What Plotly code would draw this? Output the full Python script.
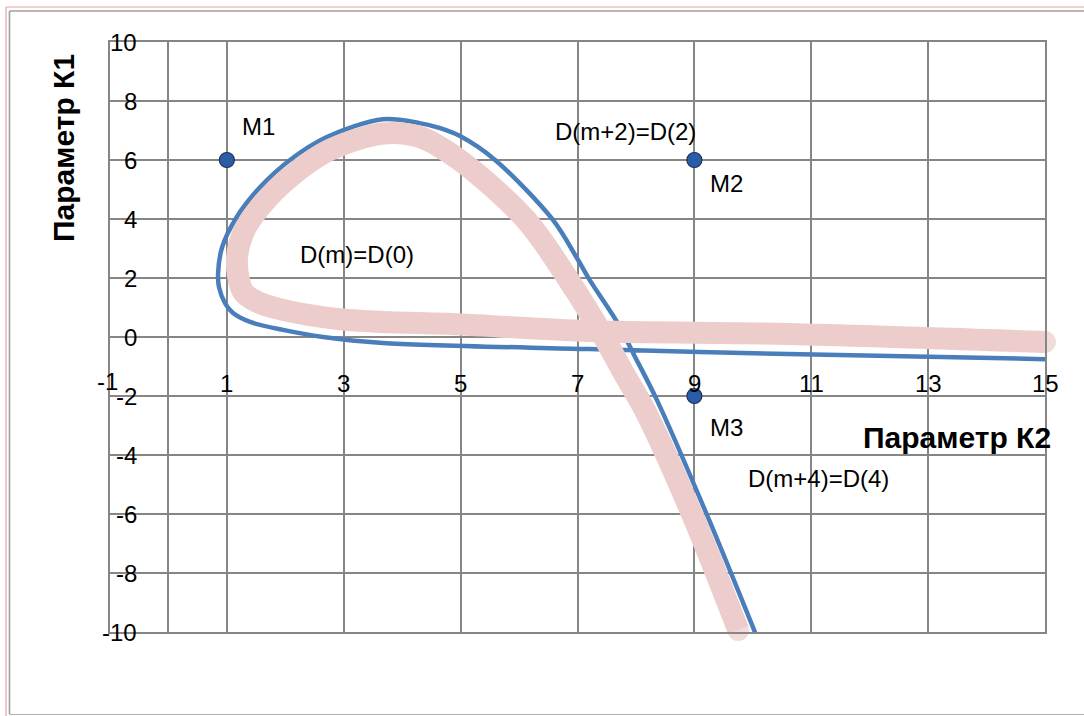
import plotly.graph_objects as go

# ---- data ----
blue_k2 = [10.07, 9.23, 8.36, 7.95, 7.69, 7.21, 7.01, 6.58, 5.59, 4.99, 4.65, 4.30,
           3.67, 2.71, 2.08, 1.57, 1.17, 0.92, 0.85, 0.865, 0.968, 1.105, 1.396, 1.96, 2.645,
           3.67, 7.19, 10.6, 15.0]
blue_k1 = [-10.17, -6.1, -2.14, -0.54, 0.47, 1.93, 2.61, 3.97, 6.0, 6.81, 7.08, 7.25,
           7.38, 6.78, 6.0, 5.08, 4.07, 3.05, 2.17, 1.69, 1.15, 0.81, 0.51, 0.24, 0.0,
           -0.2, -0.41, -0.58, -0.75]

pink_k2 = [9.75, 8.98, 8.15, 7.81, 7.38, 6.85, 6.12, 5.00, 4.30, 3.67, 2.76, 2.08,
           1.57, 1.28, 1.17, 1.28, 1.52, 1.96, 2.94, 3.79, 4.77, 7.19, 10.6, 15.0]
pink_k1 = [-9.93, -6.10, -2.47, -1.29, 0.24, 1.93, 3.97, 5.97, 6.78, 6.90, 6.34, 5.42,
           4.41, 3.53, 2.54, 1.53, 1.19, 0.92, 0.6, 0.5, 0.45, 0.2, 0.1, -0.17]

point_names = ["M1", "M2", "M3"]
point_k2 = [1, 9, 9]
point_k1 = [6, 6, -2]

x_ticks = [-1, 1, 3, 5, 7, 9, 11, 13, 15]
y_ticks = [-10, -8, -6, -4, -2, 0, 2, 4, 6, 8, 10]

curve_labels = ["D(m)=D(0)", "D(m+2)=D(2)", "D(m+4)=D(4)"]
x_title = "Параметр К2"
y_title = "Параметр К1"

# ---- figure ----
W, H = 1084, 716
L, R, T, B = 110, 1045, 42, 632


def px(x):
    return (x - L) / (R - L)


def py(y):
    return (B - y) / (B - T)


BLUE = "#4A7EBB"
PINK = "#EDCDCB"
GRID = "#868686"
FONT = "Liberation Sans, Arial, sans-serif"

fig = go.Figure()
fig.add_trace(go.Scatter(x=blue_k2, y=blue_k1, mode="lines",
                         line=dict(color=BLUE, width=4.5, shape="spline", smoothing=0.9),
                         hoverinfo="skip", showlegend=False))
sizes = [22] + [0] * (len(pink_k2) - 2) + [22]
fig.add_trace(go.Scatter(x=pink_k2, y=pink_k1, mode="lines+markers", cliponaxis=False,
                         line=dict(color=PINK, width=22, shape="spline", smoothing=0.9),
                         marker=dict(size=sizes, color=PINK, line=dict(width=0)),
                         hoverinfo="skip", showlegend=False))
fig.add_trace(go.Scatter(x=point_k2, y=point_k1, mode="markers",
                         marker=dict(size=15, color="#2A5DA8", line=dict(color="#1B2F55", width=1.2)),
                         hoverinfo="skip", showlegend=False))

tick_font = dict(family=FONT, size=24, color="black")
ann = []
for v in x_ticks:
    ann.append(dict(x=v, y=-1.5 if v == -1 else -1.59, xref="x", yref="y",
                    xshift=-3 if v == -1 else 0,
                    text=str(v), showarrow=False,
                    xanchor="center", yanchor="middle", font=tick_font))
for v in y_ticks:
    ann.append(dict(x=-0.50, y=v, xref="x", yref="y", text=str(v), showarrow=False,
                    xanchor="right", yanchor="middle", font=tick_font))

lab_font = dict(family=FONT, size=24, color="black")
# point labels
ann.append(dict(x=1.22, y=7.12, text=point_names[0], showarrow=False, xanchor="left", yanchor="middle", font=lab_font))
ann.append(dict(x=9.23, y=5.19, text=point_names[1], showarrow=False, xanchor="left", yanchor="middle", font=lab_font))
ann.append(dict(x=9.23, y=-3.08, text=point_names[2], showarrow=False, xanchor="left", yanchor="middle", font=lab_font))
# curve labels
ann.append(dict(x=2.22, y=2.78, text=curve_labels[0], showarrow=False, xanchor="left", yanchor="middle", font=lab_font))
ann.append(dict(x=9.06, y=6.98, text=curve_labels[1], showarrow=False, xanchor="right", yanchor="middle", font=lab_font))
ann.append(dict(x=9.88, y=-4.81, text=curve_labels[2], showarrow=False, xanchor="left", yanchor="middle", font=lab_font))
# axis titles
title_font = dict(family=FONT, size=30, color="black")
ann.append(dict(x=px(1053), y=py(437), xref="paper", yref="paper", text="<b>" + x_title + "</b>",
                showarrow=False, xanchor="right", yanchor="middle", font=title_font))
ann.append(dict(x=px(63), y=py(148), xref="paper", yref="paper", text="<b>" + y_title + "</b>",
                showarrow=False, xanchor="center", yanchor="middle", textangle=-90, font=title_font))

shapes = [
    # outer pink frame
    dict(type="line", xref="paper", yref="paper", x0=px(6), x1=px(6), y0=py(7), y1=py(716),
         line=dict(color="#E8A3A3", width=1.2)),
    dict(type="line", xref="paper", yref="paper", x0=px(6), x1=px(1084), y0=py(7), y1=py(7),
         line=dict(color="#E8A3A3", width=1.2)),
    # gray chart-area frame
    dict(type="line", xref="paper", yref="paper", x0=px(9.5), x1=px(9.5), y0=py(11), y1=py(714),
         line=dict(color="#A0A0A0", width=1.6)),
    dict(type="line", xref="paper", yref="paper", x0=px(9.5), x1=px(1084), y0=py(11), y1=py(11),
         line=dict(color="#A0A0A0", width=1.6)),
    dict(type="line", xref="paper", yref="paper", x0=px(9.5), x1=px(1084), y0=py(714.5), y1=py(714.5),
         line=dict(color="#B0B0B0", width=1.2)),
]

axis_common = dict(showgrid=True, gridcolor=GRID, gridwidth=1.8,
                   zeroline=True, zerolinecolor=GRID, zerolinewidth=1.8, showticklabels=False, ticks="",
                   showline=True, linecolor=GRID, linewidth=1.8, mirror=True, fixedrange=True)

fig.update_layout(
    width=W, height=H,
    margin=dict(l=L, r=W - R, t=T, b=H - B),
    paper_bgcolor="white", plot_bgcolor="white",
    xaxis=dict(range=[-1, 15], tick0=-1, dtick=2, **axis_common),
    yaxis=dict(range=[-10, 10], tick0=-10, dtick=2, **axis_common),
    annotations=ann,
    shapes=shapes,
    showlegend=False,
)

fig.write_html("out.html", config={"displayModeBar": False},
               post_script="document.body.style.margin='0';document.body.style.overflow='hidden';")
